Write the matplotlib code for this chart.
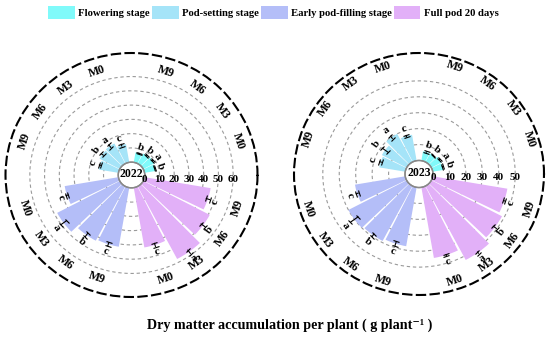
import matplotlib
matplotlib.use("Agg")
import matplotlib.pyplot as plt
import numpy as np
from matplotlib.patches import Patch
from matplotlib import transforms

plt.rcParams['font.family'] = ['Liberation Serif', 'DejaVu Serif']
plt.rcParams['font.weight'] = 'bold'

# categorias
stages = ['Flowering stage', 'Pod-setting stage', 'Early pod-filling stage', 'Full pod 20 days']
treatments = ['M0', 'M3', 'M6', 'M9']
colors = ['#80FAFA', '#A5E4F8', '#B4BEF8', '#E2B0F8']

# 2022 (g plant-1), orden M0, M3, M6, M9
dm2022_flowering = [7.5, 8.5, 8.0, 7.0]
dm2022_podsetting = [13.0, 16.0, 15.5, 13.5]
dm2022_earlyfill = [37.0, 48.0, 43.0, 42.0]
dm2022_fullpod = [42.5, 57.5, 51.0, 45.5]
err2022_flowering = [0.5, 0.6, 0.5, 0.5]
err2022_podsetting = [1.0, 1.5, 1.2, 0.8]
err2022_earlyfill = [1.0, 2.5, 1.8, 1.5]
err2022_fullpod = [1.5, 1.8, 2.0, 1.5]
sig2022_flowering = ['b', 'a', 'b', 'b']
sig2022_podsetting = ['c', 'a', 'b', 'c']
sig2022_earlyfill = ['c', 'a', 'b', 'c']
sig2022_fullpod = ['c', 'a', 'b', 'c']

# 2023
dm2023_flowering = [6.5, 7.0, 6.0, 6.0]
dm2023_podsetting = [16.5, 20.0, 17.0, 16.0]
dm2023_earlyfill = [31.0, 40.0, 39.0, 37.5]
dm2023_fullpod = [45.0, 52.5, 48.5, 46.0]
err2023_flowering = [0.4, 0.5, 0.4, 0.4]
err2023_podsetting = [0.8, 1.2, 2.5, 0.8]
err2023_earlyfill = [1.0, 3.0, 1.2, 1.5]
err2023_fullpod = [0.6, 0.8, 1.5, 0.7]
sig2023_flowering = ['b', 'a', 'b', 'b']
sig2023_podsetting = ['c', 'a', 'b', 'c']
sig2023_earlyfill = ['c', 'a', 'b', 'c']
sig2023_fullpod = ['c', 'a', 'b', 'c']

rticks2022 = [0, 10, 20, 30, 40, 50, 60]
rticks2023 = [0, 10, 20, 30, 40, 50]


def rot(deg):
    r = deg - 90
    if r > 90:
        r -= 180
    if r < -90:
        r += 180
    return r


def panel(ax, year, vals, errs, sigs, rmax, hole, rticks, mrad):
    ax.set_aspect('auto')
    ax.set_ylim(0, rmax)
    ax.set_rorigin(-hole)
    ax.set_xticks([])
    ax.set_yticks([])
    ax.grid(False)
    ax.spines['polar'].set_linestyle((0, (4, 2.6)))
    ax.spines['polar'].set_linewidth(1.5)
    ax.spines['polar'].set_color('black')
    ax.spines['inner'].set_color('#888888')
    ax.spines['inner'].set_linewidth(1.0)

    tt = np.linspace(0, 2 * np.pi, 400)
    # circulos de la rejilla
    for v in rticks[1:]:
        ax.plot(tt, np.full_like(tt, v), color='#9a9a9a', lw=0.8,
                linestyle=(0, (3, 2.5)), zorder=1)
    ax.plot(tt, np.zeros_like(tt), color='#888888', lw=1.0, zorder=4, clip_on=False)

    w = np.deg2rad(16.5)
    for s in range(4):
        ang = np.array([90 * s + 18 * (t + 1) for t in range(4)])
        th = np.deg2rad(ang)
        ax.bar(th, vals[s], width=w, bottom=0, color=colors[s], zorder=2)
        ax.errorbar(th, vals[s], yerr=errs[s], fmt='none', ecolor='black',
                    elinewidth=0.8, capsize=2, capthick=0.8, zorder=3)
        for t in range(4):
            ax.text(th[t], vals[s][t] + errs[s][t] + 3.8, sigs[s][t], fontsize=8,
                    ha='center', va='center', rotation=rot(ang[t]),
                    rotation_mode='anchor', zorder=5)
            ax.text(th[t], mrad, treatments[t], fontsize=8.5, ha='center',
                    va='center', rotation=rot(ang[t]), rotation_mode='anchor')

    off = transforms.offset_copy(ax.transData, fig=ax.figure, y=-4, units='dots')
    for v in rticks:
        ax.text(0, v, str(v), transform=off, fontsize=8, ha='center', va='center', zorder=5)
    ax.text(0.5, 0.505, year, transform=ax.transAxes, fontsize=8.5,
            ha='center', va='center', zorder=5)


fig = plt.figure(figsize=(5.5, 3.44), dpi=100)
ax1 = fig.add_axes([5.5 / 550, 47 / 344, 252 / 550, 244 / 344], projection='polar')
ax2 = fig.add_axes([294 / 550, 49 / 344, 250 / 550, 242 / 344], projection='polar')

panel(ax1, '2022',
      [dm2022_flowering, dm2022_podsetting, dm2022_earlyfill, dm2022_fullpod],
      [err2022_flowering, err2022_podsetting, err2022_earlyfill, err2022_fullpod],
      [sig2022_flowering, sig2022_podsetting, sig2022_earlyfill, sig2022_fullpod],
      76.5, 9, rticks2022, 67)
panel(ax2, '2023',
      [dm2023_flowering, dm2023_podsetting, dm2023_earlyfill, dm2023_fullpod],
      [err2023_flowering, err2023_podsetting, err2023_earlyfill, err2023_fullpod],
      [sig2023_flowering, sig2023_podsetting, sig2023_earlyfill, sig2023_fullpod],
      67.5, 8.5, rticks2023, 62)

handles = [Patch(facecolor=c, edgecolor='none') for c in colors]
fig.legend(handles, stages, loc='upper center', bbox_to_anchor=(0.497, 1.0), ncol=4,
           frameon=False, fontsize=7.7, handlelength=2.5, handleheight=1.45,
           handletextpad=0.3, columnspacing=0.2, borderaxespad=0.15)

fig.text(0.527, 0.055, 'Dry matter accumulation per plant ( g plant\u207b\u00b9 )',
         ha='center', va='center', fontsize=10.2)

fig.savefig('out.png', dpi=100)
